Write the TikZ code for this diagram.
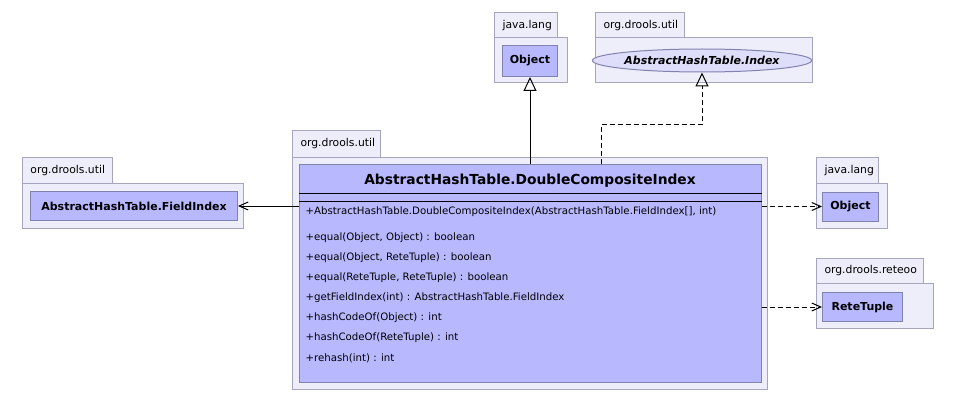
\documentclass[tikz,border=0pt]{standalone}
\usepackage{fontspec}
\setmainfont{DejaVu Sans}
\usetikzlibrary{arrows.meta, positioning, shapes.geometric}
\definecolor{pkgfill}{RGB}{238,238,250}
\definecolor{pkgline}{RGB}{165,165,190}
\definecolor{classfill}{RGB}{184,184,255}
\definecolor{classline}{RGB}{130,130,175}
\definecolor{ifacefill}{RGB}{222,222,250}

\begin{document}
\begin{tikzpicture}[x=1pt, y=-1pt, line width=1pt,
      pkg_tab/.style={draw=pkgline, fill=pkgfill, anchor=north west, inner xsep=8pt, inner ysep=0pt,
        minimum height=26pt, align=left, font=\fontsize{10.8}{12}\selectfont},
      pkg_body/.style={draw=pkgline, fill=pkgfill, anchor=north west, inner sep=0pt},
      class_box/.style={draw=classline, fill=classfill, anchor=north west, inner sep=0pt,
        font=\bfseries\fontsize{11}{13}\selectfont},
      iface_box/.style={ellipse, draw=classline, fill=ifacefill, inner sep=0pt,
        font=\bfseries\itshape\fontsize{11}{13}\selectfont},
      member_text/.style={anchor=west, inner sep=0pt, font=\fontsize{10.2}{12}\selectfont},
      gen_arrow/.style={-{Triangle[open, length=14pt, width=13pt]}},
      dep_arrow/.style={dash pattern=on 5pt off 3pt, -{Straight Barb[length=9pt, width=8pt]}},
      assoc_arrow/.style={-{Straight Barb[length=9pt, width=8pt]}}
  ]

  \useasboundingbox[fill=white] (0,0) rectangle (958,401);

  % Packages
  \node[pkg_tab, text width=47pt] (tabLangTop) at (494,12) {java.lang};
  \node[pkg_body, minimum width=73pt, minimum height=45pt] (pkgLangTop) at (494,37) {};
  \node[pkg_tab, text width=73pt] (tabUtilTop) at (595,12) {org.drools.util};
  \node[pkg_body, minimum width=217pt, minimum height=45pt] (pkgUtilTop) at (595,37) {};
  \node[pkg_tab, text width=72pt, minimum height=27pt] (tabUtilMain) at (292,130) {org.drools.util};
  \node[pkg_body, minimum width=475pt, minimum height=232pt] (pkgUtilMain) at (292,157) {};
  \node[pkg_tab, text width=74pt] (tabUtilLeft) at (22,157) {org.drools.util};
  \node[pkg_body, minimum width=221pt, minimum height=45pt] (pkgUtilLeft) at (22,183) {};
  \node[pkg_tab, text width=46pt] (tabLangRight) at (816,157) {java.lang};
  \node[pkg_body, minimum width=71pt, minimum height=45pt] (pkgLangRight) at (816,183) {};
  \node[pkg_tab, text width=91pt, minimum height=25pt] (tabReteoo) at (816,258) {org.drools.reteoo};
  \node[pkg_body, minimum width=117pt, minimum height=45pt] (pkgReteoo) at (816,283) {};

  % Classes
  \node[class_box, minimum width=55pt, minimum height=31pt] (objTop) at (502,45) {Object};
  \node[iface_box, minimum width=199pt, minimum height=23pt] (index) at (702,60.5) {AbstractHashTable.Index};
  \node[class_box, minimum width=207pt, minimum height=29pt] (fieldIdx) at (30,191) {AbstractHashTable.FieldIndex};
  \node[class_box, minimum width=56pt, minimum height=29pt] (objRight) at (822,191.5) {Object};
  \node[class_box, minimum width=80pt, minimum height=29pt] (reteTuple) at (822,292) {ReteTuple};

  % The main class
  \node[class_box, minimum width=462pt, minimum height=218pt] (main) at (299,164) {};
  \node[font=\bfseries\fontsize{13.8}{16}\selectfont] (mainTitle) at (530,181) {AbstractHashTable.DoubleCompositeIndex};
  \draw (main.west |- 0,193) -- (main.east |- 0,193);
  \draw (main.west |- 0,201) -- (main.east |- 0,201);

  % Members
  \node[member_text] (ctor) at (305,212) {+AbstractHashTable.DoubleCompositeIndex(AbstractHashTable.FieldIndex[], int)};
  \foreach \txt [count=\i] in {{+equal(Object, Object) : boolean},
      {+equal(Object, ReteTuple) : boolean},
      {+equal(ReteTuple, ReteTuple) : boolean},
      {+getFieldIndex(int) : AbstractHashTable.FieldIndex},
      {+hashCodeOf(Object) : int},
      {+hashCodeOf(ReteTuple) : int},
      {+rehash(int) : int}}
    \node[member_text] (m\i) at (305,218+20*\i) {\txt};

  % Connectors
  \coordinate (bend) at (601,125);
  \draw[gen_arrow] (objTop.south |- main.north) -- (objTop.south);
  \draw[gen_arrow, dash pattern=on 5pt off 3pt] (bend |- main.north) -- (bend) -| (index.south);
  \draw[assoc_arrow] (main.west |- fieldIdx.east) -- (fieldIdx.east);
  \draw[dep_arrow] (main.east |- objRight.west) -- (objRight.west);
  \draw[dep_arrow] (main.east |- reteTuple.west) -- (reteTuple.west);

\end{tikzpicture}
\end{document}
